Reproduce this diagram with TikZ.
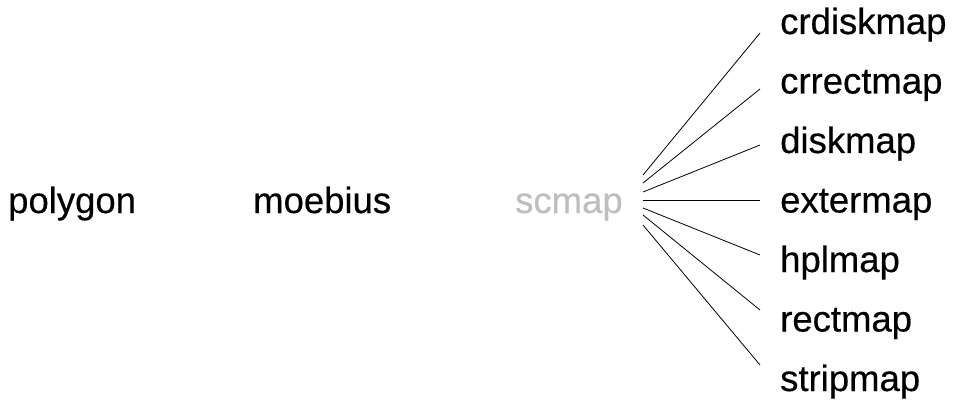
\documentclass[tikz,border=0pt]{standalone}
\usepackage{fontspec}
\setmainfont{Liberation Sans}[FakeBold=0.4]
\usetikzlibrary{calc}
\definecolor{lightgraytext}{RGB}{190,190,190}
\begin{document}
\begin{tikzpicture}[x=1pt,y=-1pt,
  lbl/.style={anchor=base west,inner sep=0pt,font=\fontsize{36.5}{40}\selectfont},
  conn/.style={draw=black,line width=0.8pt}]
\useasboundingbox[fill=white] (0,0) rectangle (953,401);
\node[lbl] (polygon) at (8,213) {polygon};
\node[lbl] (moebius) at (253,213) {moebius};
\node[lbl,text=lightgraytext] (scmap) at (515,213) {scmap};
\node[lbl] (crdiskmap) at (780,34) {crdiskmap};
\node[lbl] (crrectmap) at (780,93.5) {crrectmap};
\node[lbl] (diskmap) at (780,153) {diskmap};
\node[lbl] (extermap) at (780,212.5) {extermap};
\node[lbl] (hplmap) at (780,272) {hplmap};
\node[lbl] (rectmap) at (780,331.5) {rectmap};
\node[lbl] (stripmap) at (780,391) {stripmap};
\draw[conn] ($(scmap.base west)+(128,175-213)$) -- ($(crdiskmap.base west)+(-20,33-34)$);
\draw[conn] ($(scmap.base west)+(128,183-213)$) -- ($(crrectmap.base west)+(-20,89-93.5)$);
\draw[conn] ($(scmap.base west)+(128,192-213)$) -- ($(diskmap.base west)+(-20,145-153)$);
\draw[conn] ($(scmap.base west)+(128,200-213)$) -- ($(extermap.base west)+(-20,200-212.5)$);
\draw[conn] ($(scmap.base west)+(128,208-213)$) -- ($(hplmap.base west)+(-20,255-272)$);
\draw[conn] ($(scmap.base west)+(128,215-213)$) -- ($(rectmap.base west)+(-20,310-331.5)$);
\draw[conn] ($(scmap.base west)+(128,225-213)$) -- ($(stripmap.base west)+(-20,365-391)$);
\end{tikzpicture}
\end{document}
